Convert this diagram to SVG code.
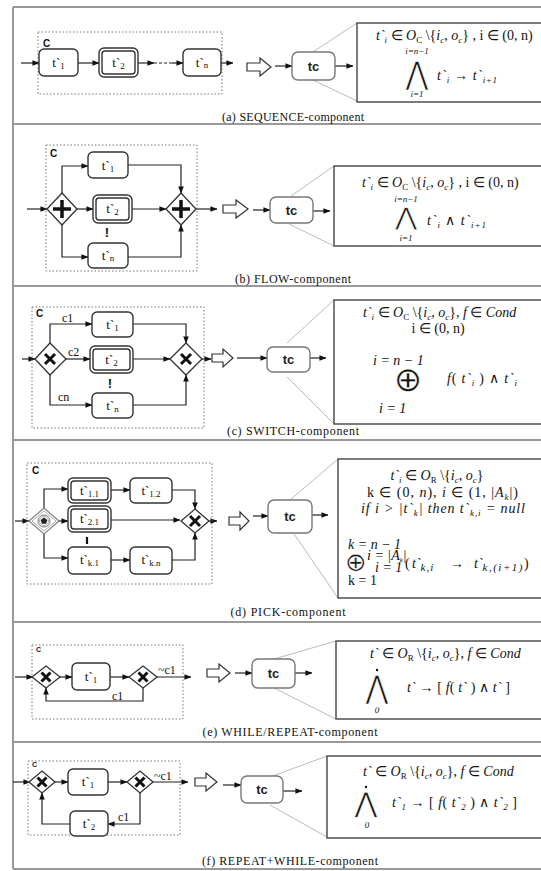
<svg xmlns="http://www.w3.org/2000/svg" width="541" height="871" viewBox="0 0 541 871">
<defs>
<marker id="ah" viewBox="0 0 8 8" refX="7.5" refY="4" markerWidth="7" markerHeight="7" markerUnits="userSpaceOnUse" orient="auto"><path d="M0,0.8 L8,4 L0,7.2 Z" fill="#111"/></marker>
<style>
.frame{stroke:#999;stroke-width:2;fill:none}
.dot{stroke:#777;stroke-width:1;stroke-dasharray:1.5 2;fill:none}
.task{fill:#fff;stroke:#333;stroke-width:1.4}
.tc{fill:#fff;stroke:#777;stroke-width:1.4}
.fbox{fill:#fff;stroke:#444;stroke-width:1.4}
.zl{stroke:#bbb;stroke-width:1;fill:none}
.e{stroke:#222;stroke-width:1.2;fill:none;marker-end:url(#ah)}
.ed{stroke:#222;stroke-width:1.2;fill:none;stroke-dasharray:3 2}
.gw{fill:#fff;stroke:#333;stroke-width:1.3}
.mk{stroke:#111;fill:none;stroke-linecap:butt}
.blk{fill:#fff;stroke:#333;stroke-width:1.2}
.tt{font-family:"Liberation Serif",serif;font-size:13px;fill:#111;text-anchor:middle}
.tcl{font-family:"Liberation Sans",Arial,sans-serif;font-weight:bold;font-size:13px;fill:#222;text-anchor:middle}
.C{font-family:"Liberation Sans",Arial,sans-serif;font-weight:bold;font-size:10px;fill:#111}
.cs{font-family:"Liberation Sans",Arial,sans-serif;font-weight:bold;font-size:7px;fill:#111}
.ex{font-family:"Liberation Sans",Arial,sans-serif;font-weight:bold;font-size:13px;fill:#111;text-anchor:middle}
.cl{font-family:"Liberation Serif",serif;font-size:12px;fill:#111}
.lbl{font-family:"Liberation Serif",serif;font-size:12px;fill:#111;text-anchor:middle}
.m{font-family:"Liberation Serif",serif;font-size:14px;fill:#111}
.mc{font-family:"Liberation Serif",serif;font-size:14px;fill:#111;text-anchor:middle}
.sm{font-family:"Liberation Serif",serif;font-size:9px;font-style:italic;fill:#111;text-anchor:middle}
.big{font-family:"DejaVu Sans",sans-serif;fill:#111;text-anchor:middle;stroke:#fff;stroke-width:0.45}
.i{font-style:italic}
.s{font-size:9px}
</style>
</defs>

<g id="frame">
<path class="frame" d="M13,7 H541 M13,7 V869 M13,124 H541 M13,286 H541 M13,440 H541 M13,622 H541 M13,742 H541 M13,869 H541"/>
</g>

<g id="connectors">
<!-- (a) -->
<path class="e" d="M21,63 H39"/>
<path class="e" d="M78,63 H99"/>
<path class="e" d="M138,63 H154"/>
<path class="ed" d="M154,63 H172"/>
<path class="e" d="M172,63 H183"/>
<path class="e" d="M221,63 H233"/>
<path class="e" d="M275,66 H292"/>
<path class="e" d="M335,66 H353"/>
<path class="zl" d="M313,52 L357,23 M313,80 L357,101"/>
<!-- (b) -->
<path class="e" d="M27,209 H47"/>
<path class="e" d="M62,193 V166 H88"/>
<path class="e" d="M128,165 H181 V193"/>
<path class="e" d="M77,209 H93"/>
<path class="e" d="M132,209 H166"/>
<path class="e" d="M62,225 V257 H88"/>
<path class="e" d="M128,257 H181 V225"/>
<path class="e" d="M196,209 H217"/>
<path class="e" d="M253,210 H270"/>
<path class="e" d="M313,211 H330"/>
<path class="zl" d="M291,196 L334,166 M289,224 L334,246"/>
<!-- (c) -->
<path class="e" d="M22,359 H35"/>
<path class="e" d="M50,343 V324 H92"/>
<path class="e" d="M133,324 H186 V343"/>
<path class="e" d="M66,359 H90"/>
<path class="e" d="M133,359 H170"/>
<path class="e" d="M50,375 V405 H92"/>
<path class="e" d="M133,405 H186 V375"/>
<path class="e" d="M202,359 H211"/>
<path class="e" d="M237,358 H267"/>
<path class="e" d="M310,358 H326"/>
<path class="zl" d="M287,343 L334,300 M287,377 L334,424"/>
<!-- (d) -->
<path class="e" d="M15,521 H29"/>
<path class="e" d="M44,508 V489 H68"/>
<path class="e" d="M111,490 H130"/>
<path class="e" d="M172,490 H195 V509"/>
<path class="e" d="M59,521 H68"/>
<path class="e" d="M111,520 H180"/>
<path class="e" d="M44,534 V558 H68"/>
<path class="e" d="M111,560 H130"/>
<path class="e" d="M172,560 H195 V533"/>
<path class="e" d="M209,521 H217"/>
<path class="e" d="M253,516 H268"/>
<path class="e" d="M312,515 H328"/>
<path class="zl" d="M290,500 L338,459 M292,531 L338,598"/>
<!-- (e) -->
<path class="e" d="M15,677 H33"/>
<path class="e" d="M60,677 H72"/>
<path class="e" d="M110,677 H129"/>
<path class="e" d="M157,677 H191"/>
<path class="e" d="M143,688 V701 H46 V688"/>
<path class="e" d="M235,673 H252"/>
<path class="e" d="M295,673 H312"/>
<path class="zl" d="M274,659 L336,641 M274,688 L336,719"/>
<!-- (f) -->
<path class="e" d="M13,782 H30"/>
<path class="e" d="M55,782 H68"/>
<path class="e" d="M108,782 H127"/>
<path class="e" d="M153,782 H188"/>
<path class="e" d="M140,793 V824 H108"/>
<path class="e" d="M70,824 H42 V793"/>
<path class="e" d="M223,785 H241"/>
<path class="e" d="M283,791 H302"/>
<path class="zl" d="M270,777 L327,756 M270,805 L327,837"/>
</g>

<!-- ===== (a) SEQUENCE ===== -->
<g id="a-container"><rect class="dot" x="38" y="32" width="184" height="62"/><text class="C" x="43" y="47">C</text></g>
<g id="a-t1"><rect class="task" x="39" y="49" width="39" height="27" rx="5"/><text class="tt" x="58.5" y="67">t`<tspan class="s" dy="2">1</tspan></text></g>
<g id="a-t2"><rect class="task" x="99" y="48" width="39" height="29" rx="5"/><rect class="task" x="102" y="51" width="33" height="23" rx="3"/><text class="tt" x="118.5" y="67">t`<tspan class="s" dy="2">2</tspan></text></g>
<g id="a-tn"><rect class="task" x="183" y="49" width="38" height="27" rx="5"/><text class="tt" x="202" y="67">t`<tspan class="s" dy="1">n</tspan></text></g>
<g id="a-block"><polygon class="blk" points="247,63 260,63 260,58 271,67 260,76 260,71 247,71"/></g>
<g id="a-tc"><rect class="tc" x="292" y="52" width="43" height="28" rx="6"/><text class="tcl" x="313.5" y="71">tc</text></g>
<g id="a-formula"><rect class="fbox" x="357" y="23" width="200" height="79"/>
<text class="m" x="376" y="40"><tspan class="i">t`</tspan><tspan class="i s" dy="3">i</tspan><tspan dy="-3"> ∈ </tspan><tspan class="i">O</tspan><tspan class="s" dy="3">C</tspan><tspan dy="-3"> \{</tspan><tspan class="i">i</tspan><tspan class="i s" dy="3">c</tspan><tspan dy="-3">, </tspan><tspan class="i">o</tspan><tspan class="i s" dy="3">c</tspan><tspan dy="-3">} , i ∈ (0, n)</tspan></text>
<text class="sm" x="417" y="54">i=n−1</text>
<text class="big" font-size="26" transform="translate(417,84) scale(1.05,1.2)">⋀</text>
<text class="sm" x="417" y="97">i=1</text>
<text class="m" x="437" y="80" textLength="60" lengthAdjust="spacing"><tspan class="i">t`</tspan><tspan class="i s" dy="3">i</tspan><tspan dy="-3"> → </tspan><tspan class="i">t`</tspan><tspan class="i s" dy="3">i+1</tspan></text>
</g>
<g id="a-label"><text class="lbl" x="293" y="121" textLength="142" lengthAdjust="spacing">(a)  SEQUENCE-component</text></g>

<!-- ===== (b) FLOW ===== -->
<g id="b-container"><rect class="dot" x="46" y="145" width="151" height="126"/><text class="C" x="50" y="157">C</text></g>
<g id="b-split"><polygon class="gw" points="62,193 77,209 62,225 47,209"/><path class="mk" stroke-width="3.5" d="M62,200 V218 M53,209 H71"/></g>
<g id="b-t1"><rect class="task" x="88" y="152" width="40" height="26" rx="5"/><text class="tt" x="108" y="170">t`<tspan class="s" dy="2">1</tspan></text></g>
<g id="b-t2"><rect class="task" x="93" y="195" width="39" height="28" rx="5"/><rect class="task" x="96" y="198" width="33" height="22" rx="3"/><text class="tt" x="112.5" y="213">t`<tspan class="s" dy="2">2</tspan></text><text class="ex" x="107" y="237">!</text></g>
<g id="b-tn"><rect class="task" x="88" y="243" width="40" height="25" rx="5"/><text class="tt" x="108" y="260">t`<tspan class="s" dy="1">n</tspan></text></g>
<g id="b-join"><polygon class="gw" points="181,193 196,209 181,225 166,209"/><path class="mk" stroke-width="3.5" d="M181,200 V218 M172,209 H190"/></g>
<g id="b-block"><polygon class="blk" points="223,205 236,205 236,200 248,209 236,218 236,213 223,213"/></g>
<g id="b-tc"><rect class="tc" x="270" y="197" width="43" height="26" rx="6"/><text class="tcl" x="291.5" y="215">tc</text></g>
<g id="b-formula"><rect class="fbox" x="334" y="166" width="220" height="80"/>
<text class="m" x="362" y="187"><tspan class="i">t`</tspan><tspan class="i s" dy="3">i</tspan><tspan dy="-3"> ∈ </tspan><tspan class="i">O</tspan><tspan class="s" dy="3">C</tspan><tspan dy="-3"> \{</tspan><tspan class="i">i</tspan><tspan class="i s" dy="3">c</tspan><tspan dy="-3">, </tspan><tspan class="i">o</tspan><tspan class="i s" dy="3">c</tspan><tspan dy="-3">} , i ∈ (0, n)</tspan></text>
<text class="sm" x="406" y="202">i=n−1</text>
<text class="big" font-size="24" transform="translate(406,225) scale(1.1,1)">⋀</text>
<text class="sm" x="406" y="241">i=1</text>
<text class="m" x="427" y="225" textLength="59" lengthAdjust="spacing"><tspan class="i">t`</tspan><tspan class="i s" dy="3">i</tspan><tspan dy="-3">  ∧  </tspan><tspan class="i">t`</tspan><tspan class="i s" dy="3">i+1</tspan></text>
</g>
<g id="b-label"><text class="lbl" x="293" y="283" textLength="116" lengthAdjust="spacing">(b)  FLOW-component</text></g>

<!-- ===== (c) SWITCH ===== -->
<g id="c-container"><rect class="dot" x="32" y="307" width="172" height="121"/><text class="C" x="36" y="317">C</text></g>
<g id="c-split"><polygon class="gw" points="50,343 66,359 50,375 35,359"/><path class="mk" stroke-width="3" d="M45,354 L55,364 M55,354 L45,364"/></g>
<g id="c-t1"><rect class="task" x="92" y="312" width="41" height="25" rx="5"/><text class="tt" x="112.5" y="329">t`<tspan class="s" dy="2">1</tspan></text></g>
<g id="c-t2"><rect class="task" x="90" y="346" width="43" height="27" rx="5"/><rect class="task" x="93" y="349" width="37" height="21" rx="3"/><text class="tt" x="111.5" y="364">t`<tspan class="s" dy="2">2</tspan></text><text class="ex" x="110" y="388">!</text></g>
<g id="c-tn"><rect class="task" x="92" y="393" width="41" height="25" rx="5"/><text class="tt" x="112.5" y="410">t`<tspan class="s" dy="2">n</tspan></text></g>
<g id="c-join"><polygon class="gw" points="186,343 202,359 186,375 170,359"/><path class="mk" stroke-width="3" d="M181,354 L191,364 M191,354 L181,364"/></g>
<g id="c-labels"><text class="cl" x="62" y="322">c1</text><text class="cl" x="68" y="356">c2</text><text class="cl" x="58" y="401">cn</text></g>
<g id="c-block"><polygon class="blk" points="212,354 223,354 223,349 233,358 223,367 223,362 212,362"/></g>
<g id="c-tc"><rect class="tc" x="267" y="347" width="43" height="25" rx="6"/><text class="tcl" x="288.5" y="364">tc</text></g>
<g id="c-formula"><rect class="fbox" x="334" y="300" width="220" height="124"/>
<text class="m" x="363" y="317"><tspan class="i">t`</tspan><tspan class="i s" dy="3">i</tspan><tspan dy="-3"> ∈ </tspan><tspan class="i">O</tspan><tspan class="s" dy="3">C</tspan><tspan dy="-3"> \{</tspan><tspan class="i">i</tspan><tspan class="i s" dy="3">c</tspan><tspan dy="-3">, </tspan><tspan class="i">o</tspan><tspan class="i s" dy="3">c</tspan><tspan dy="-3">}, </tspan><tspan class="i">f</tspan><tspan> ∈ </tspan><tspan class="i">Cond</tspan></text>
<text class="mc" x="438" y="333">i ∈ (0, n)</text>
<text class="m i" x="373" y="365" font-size="11">i = n − 1</text>
<text class="big" x="408" y="391" font-size="34">⊕</text>
<text class="m" x="447" y="383" textLength="70" lengthAdjust="spacing"><tspan class="i">f</tspan>( <tspan class="i">t`</tspan><tspan class="i s" dy="3">i</tspan><tspan dy="-3"> ) ∧ </tspan><tspan class="i">t`</tspan><tspan class="i s" dy="3">i</tspan></text>
<text class="m i" x="379" y="413" font-size="11">i = 1</text>
</g>
<g id="c-label"><text class="lbl" x="293" y="435" textLength="132" lengthAdjust="spacing">(c)  SWITCH-component</text></g>

<!-- ===== (d) PICK ===== -->
<g id="d-container"><rect class="dot" x="27" y="463" width="185" height="121"/><text class="C" x="32" y="474">C</text></g>
<g id="d-split"><polygon fill="#fff" stroke="#888" stroke-width="1.3" points="44,508 59,521 44,534 29,521"/><polygon fill="none" stroke="#aaa" stroke-width="1" points="44,511 56,521 44,531 32,521"/><circle cx="44" cy="521" r="6" fill="#fff" stroke="#777" stroke-width="1"/><circle cx="44" cy="521" r="4.5" fill="none" stroke="#999" stroke-width="0.8"/><polygon fill="#222" points="44,517.5 47.3,519.9 46.1,523.8 41.9,523.8 40.7,519.9"/></g>
<g id="d-t11"><rect class="task" x="68" y="478" width="43" height="25" rx="5"/><rect class="task" x="71" y="481" width="37" height="19" rx="3"/><text class="tt" x="89.5" y="495">t`<tspan class="s" dy="2">1.1</tspan></text></g>
<g id="d-t12"><rect class="task" x="130" y="478" width="42" height="25" rx="5"/><text class="tt" x="151" y="495">t`<tspan class="s" dy="2">1.2</tspan></text></g>
<g id="d-t21"><rect class="task" x="68" y="506" width="43" height="26" rx="5"/><rect class="task" x="71" y="509" width="37" height="20" rx="3"/><text class="tt" x="89.5" y="523">t`<tspan class="s" dy="2">2.1</tspan></text><path stroke="#111" stroke-width="2.2" d="M87,537 V544"/></g>
<g id="d-tk1"><rect class="task" x="68" y="547" width="43" height="27" rx="5"/><text class="tt" x="89.5" y="564">t`<tspan class="s" dy="2">k.1</tspan></text></g>
<g id="d-tkn"><rect class="task" x="130" y="547" width="42" height="27" rx="5"/><text class="tt" x="151" y="564">t`<tspan class="s" dy="2">k.n</tspan></text></g>
<g id="d-join"><polygon class="gw" points="195,509 209,521 195,533 181,521"/><path class="mk" stroke-width="3" d="M190,516 L200,526 M200,516 L190,526"/></g>
<g id="d-block"><polygon class="blk" points="229,517 240,517 240,512 249,521 240,530 240,525 229,525"/></g>
<g id="d-tc"><rect class="tc" x="268" y="500" width="44" height="33" rx="6"/><text class="tcl" x="290" y="521">tc</text></g>
<g id="d-formula"><rect class="fbox" x="338" y="459" width="220" height="139"/>
<text class="mc" x="437" y="480"><tspan class="i">t`</tspan><tspan class="i s" dy="3">i</tspan><tspan dy="-3"> ∈ </tspan><tspan class="i">O</tspan><tspan class="s" dy="3">R</tspan><tspan dy="-3"> \{</tspan><tspan class="i">i</tspan><tspan class="i s" dy="3">c</tspan><tspan dy="-3">, </tspan><tspan class="i">o</tspan><tspan class="i s" dy="3">c</tspan><tspan dy="-3">}</tspan></text>
<text class="m" x="367" y="497" textLength="151" lengthAdjust="spacing">k ∈ (0, <tspan class="i">n</tspan>), <tspan class="i">i</tspan> ∈ (1, |<tspan class="i">A</tspan><tspan class="i s" dy="3">k</tspan><tspan dy="-3">|)</tspan></text>
<text class="m i" x="361" y="513" textLength="164" lengthAdjust="spacing">if i &gt; |t`<tspan class="s" dy="3">k</tspan><tspan dy="-3">| then t`</tspan><tspan class="s" dy="3">k,i</tspan><tspan dy="-3"> = null</tspan></text>
<text class="m i" x="348" y="549" font-size="11">k = n − 1</text>
<text class="big" x="356" y="571" font-size="26">⊕</text>
<text class="m i" x="367" y="560" font-size="10">i = |A<tspan font-size="7" dy="2">k</tspan><tspan dy="-2">|</tspan></text>
<text class="m i" x="375" y="572" font-size="10">i = 1</text>
<text class="m" y="568" font-size="15"><tspan x="405">(</tspan><tspan x="412" class="i">t`</tspan><tspan class="i" font-size="11" dy="3" letter-spacing="1">k,i</tspan><tspan x="450" dy="-3">→</tspan><tspan x="474" class="i">t`</tspan><tspan class="i" font-size="11" dy="3" letter-spacing="1.5">k,(i+1)</tspan><tspan dy="-3">)</tspan></text>
<text class="m" x="348" y="585" font-size="11">k = 1</text>
</g>
<g id="d-label"><text class="lbl" x="288" y="616" textLength="115" lengthAdjust="spacing">(d)  PICK-component</text></g>

<!-- ===== (e) WHILE/REPEAT ===== -->
<g id="e-container"><rect class="dot" x="32" y="645" width="151" height="74"/><text class="cs" x="36" y="652">C</text></g>
<g id="e-g1"><polygon class="gw" points="46,666 60,677 46,688 32,677"/><path class="mk" stroke-width="3" d="M41.5,672.5 L50.5,681.5 M50.5,672.5 L41.5,681.5"/></g>
<g id="e-t1"><rect class="task" x="72" y="663" width="38" height="27" rx="5"/><text class="tt" x="91" y="681">t`<tspan class="s" dy="2">1</tspan></text></g>
<g id="e-g2"><polygon class="gw" points="143,666 157,677 143,688 129,677"/><path class="mk" stroke-width="3" d="M138.5,672.5 L147.5,681.5 M147.5,672.5 L138.5,681.5"/></g>
<g id="e-labels"><text class="cl" x="158" y="674">~c1</text><text class="cl" x="112" y="700">c1</text></g>
<g id="e-block"><polygon class="blk" points="207,669 219,669 219,664 230,673 219,682 219,677 207,677"/></g>
<g id="e-tc"><rect class="tc" x="252" y="659" width="43" height="29" rx="6"/><text class="tcl" x="273.5" y="678">tc</text></g>
<g id="e-formula"><rect class="fbox" x="336" y="641" width="220" height="78"/>
<text class="m" x="370" y="658"><tspan class="i">t`</tspan><tspan> ∈ </tspan><tspan class="i">O</tspan><tspan class="s" dy="3">R</tspan><tspan dy="-3"> \{</tspan><tspan class="i">i</tspan><tspan class="i s" dy="3">c</tspan><tspan dy="-3">, </tspan><tspan class="i">o</tspan><tspan class="i s" dy="3">c</tspan><tspan dy="-3">}, </tspan><tspan class="i">f</tspan><tspan> ∈ </tspan><tspan class="i">Cond</tspan></text>
<circle cx="377" cy="670" r="1.2" fill="#111"/>
<text class="big" font-size="26" transform="translate(377,698) scale(1.05,1.2)">⋀</text>
<text class="sm" x="377" y="713" font-style="normal">0</text>
<text class="m" x="407" y="692" textLength="103" lengthAdjust="spacing"><tspan class="i">t`</tspan> → [ <tspan class="i">f</tspan>( <tspan class="i">t`</tspan> ) ∧ <tspan class="i">t`</tspan> ]</text>
</g>
<g id="e-label"><text class="lbl" x="290" y="736" textLength="175" lengthAdjust="spacing">(e)  WHILE/REPEAT-component</text></g>

<!-- ===== (f) REPEAT+WHILE ===== -->
<g id="f-container"><rect class="dot" x="28" y="761" width="152" height="74"/><text class="cs" x="32" y="767">C</text></g>
<g id="f-g1"><polygon class="gw" points="42,771 55,782 42,793 29,782"/><path class="mk" stroke-width="3" d="M37.5,777.5 L46.5,786.5 M46.5,777.5 L37.5,786.5"/></g>
<g id="f-t1"><rect class="task" x="68" y="769" width="40" height="26" rx="5"/><text class="tt" x="88" y="786">t`<tspan class="s" dy="2">1</tspan></text></g>
<g id="f-g2"><polygon class="gw" points="140,771 153,782 140,793 127,782"/><path class="mk" stroke-width="3" d="M135.5,777.5 L144.5,786.5 M144.5,777.5 L135.5,786.5"/></g>
<g id="f-t2"><rect class="task" x="70" y="811" width="38" height="25" rx="5"/><text class="tt" x="89" y="828">t`<tspan class="s" dy="2">2</tspan></text></g>
<g id="f-labels"><text class="cl" x="154" y="780">~c1</text><text class="cl" x="118" y="821">c1</text></g>
<g id="f-block"><polygon class="blk" points="195,778 206,778 206,773 217,782 206,791 206,786 195,786"/></g>
<g id="f-tc"><rect class="tc" x="241" y="776" width="42" height="27" rx="6"/><text class="tcl" x="262" y="794">tc</text></g>
<g id="f-formula"><rect class="fbox" x="327" y="756" width="220" height="82"/>
<text class="m" x="363" y="776"><tspan class="i">t`</tspan><tspan> ∈ </tspan><tspan class="i">O</tspan><tspan class="s" dy="3">R</tspan><tspan dy="-3"> \{</tspan><tspan class="i">i</tspan><tspan class="i s" dy="3">c</tspan><tspan dy="-3">, </tspan><tspan class="i">o</tspan><tspan class="i s" dy="3">c</tspan><tspan dy="-3">}, </tspan><tspan class="i">f</tspan><tspan> ∈ </tspan><tspan class="i">Cond</tspan></text>
<circle cx="366" cy="787" r="1.2" fill="#111"/>
<text class="big" font-size="26" transform="translate(366,812) scale(1.05,1.05)">⋀</text>
<text class="sm" x="367" y="828" font-style="normal">0</text>
<text class="m" x="392" y="807" textLength="125" lengthAdjust="spacing"><tspan class="i">t`</tspan><tspan class="i s" dy="3">1</tspan><tspan dy="-3"> → [ </tspan><tspan class="i">f</tspan>( <tspan class="i">t`</tspan><tspan class="i s" dy="3">2</tspan><tspan dy="-3"> ) ∧ </tspan><tspan class="i">t`</tspan><tspan class="i s" dy="3">2</tspan><tspan dy="-3"> ]</tspan></text>
</g>
<g id="f-label"><text class="lbl" x="290" y="865" textLength="176" lengthAdjust="spacing">(f)  REPEAT+WHILE-component</text></g>
</svg>
